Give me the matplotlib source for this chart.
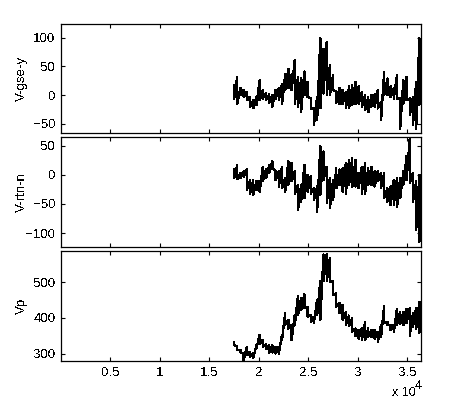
import numpy as np
import matplotlib
matplotlib.use('Agg')
import matplotlib.pyplot as plt

plt.rcParams['font.family'] = ['Liberation Sans', 'DejaVu Sans']
plt.rcParams['text.antialiased'] = False

gse_hi = [17,32,12,9,6,-3,-9,-3,26,9,3,1,0,9,12,20,36,46,36,61,32,29,41,23,-6,-23,-3,99,81,93,52,35,6,12,9,6,15,17,23,15,6,0,-3,0,1,9,-12,41,29,15,12,35,-6,26,32,-6,-3,23,99,124]
gse_lo = [-6,-15,0,-3,-9,-20,-23,-17,-9,-6,-9,-13,-20,-6,-9,-16,9,12,9,-15,-20,-29,0,-3,-23,-52,-44,-23,3,0,0,9,-13,-15,-16,-23,-23,-17,-15,-15,-20,-26,-30,-20,-20,-23,-44,0,0,-3,-6,-6,-58,-15,-9,-35,-52,-58,-17,-66]
rtn_hi = [10,17,3,6,9,-9,-9,-11,-11,14,9,17,23,6,6,14,-6,23,20,6,-17,-17,17,0,-3,-23,-20,49,40,14,-6,-9,11,9,11,20,26,29,26,3,14,20,11,14,6,6,3,3,-23,-20,-9,-6,-6,6,32,63,3,-11,0,0]
rtn_lo = [-6,-7,-6,-3,-26,-32,-34,-26,-29,-11,-6,3,11,-9,-20,-23,-29,-17,-11,-32,-60,-46,-40,-29,-32,-43,-63,-34,-9,-49,-57,-43,-23,-17,-29,-32,-17,-20,-20,-23,-32,-32,-17,-17,-20,-11,-23,-40,-46,-52,-52,-55,-40,-17,-9,-14,-46,-95,-115,-124]
vp_hi = [331,319,309,300,319,305,300,323,352,338,325,323,323,319,319,352,413,394,380,408,460,455,466,431,408,403,450,502,577,577,568,502,469,441,436,417,406,399,370,366,370,387,370,366,366,361,380,433,389,380,380,425,417,417,425,427,413,427,444,420]
vp_lo = [325,309,303,281,295,291,288,314,328,319,312,303,303,300,300,338,380,370,338,380,408,422,427,403,389,387,408,394,502,502,502,464,431,413,394,380,378,361,350,342,338,338,347,347,342,333,347,385,380,366,361,380,382,380,385,350,375,370,359,375]

time_start = 17500
time_step = 323

panels = [
    ('V-gse-y', gse_hi, gse_lo, (-66, 124), [-50, 0, 50, 100], (24, 133)),
    ('V-rtn-n', rtn_hi, rtn_lo, (-124, 65), [-100, -50, 0, 50], (137, 247)),
    ('Vp', vp_hi, vp_lo, (279, 587), [300, 400, 500], (251, 361)),
]
xtick_vals = [5000, 10000, 15000, 20000, 25000, 30000, 35000]
xtick_labels = ['0.5', '1', '1.5', '2', '2.5', '3', '3.5']

W, H = 450, 400
fig = plt.figure(figsize=(W / 100, H / 100), dpi=100)
L, R = 61, 421
for i, (name, hi, lo, ylim, yt, (top, bot)) in enumerate(panels):
    ax = fig.add_axes([L / W, 1 - bot / H, (R - L) / W, (bot - top) / H])
    n = min(len(hi), len(lo))
    t = time_start + time_step * np.arange(n)
    xs = np.repeat(t, 2)
    ys = np.column_stack([hi[:n], lo[:n]]).ravel()
    ax.plot(xs, ys, color='k', lw=1.0, antialiased=False)
    ax.set_xlim(0, 36400)
    ax.set_ylim(*ylim)
    ax.set_yticks(yt)
    ax.set_xticks(xtick_vals)
    ax.set_xticklabels(xtick_labels if i == 2 else [])
    ax.tick_params(direction='in', length=3, width=0.8, top=True, right=True,
                   labelsize=9.5, pad=4, colors='k')
    for s in ax.spines.values():
        s.set_linewidth(0.9)
    fig.text(22 / W, 1 - (top + bot) / 2 / H, name, rotation=90, ha='center',
             va='center', fontsize=9.5)

fig.text(392 / W, 1 - 393.5 / H, 'x 10', ha='left', va='center', fontsize=9)
fig.text(415 / W, 1 - 386 / H, '4', ha='left', va='center', fontsize=9)
fig.savefig('out.png', dpi=100, facecolor='white')
